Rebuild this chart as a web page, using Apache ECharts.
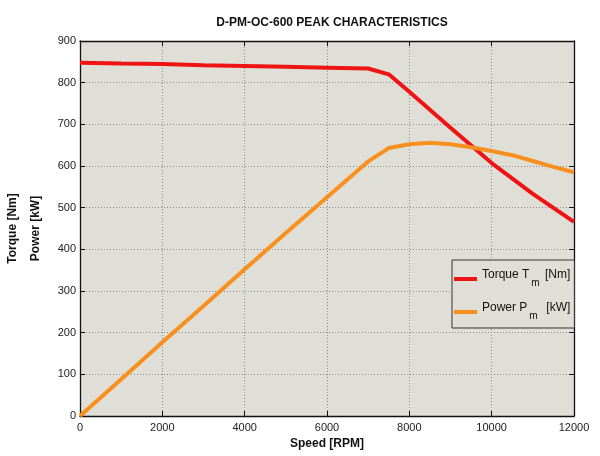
<!DOCTYPE html>
<html>
<head>
<meta charset="utf-8">
<script src="https://cdn.jsdelivr.net/npm/echarts@6/dist/echarts.min.js"></script>
<style>
html,body{margin:0;padding:0;background:#fff;}
#chart{width:600px;height:456px;}
</style>
</head>
<body>
<div id="chart"></div>
<script>
// speed [RPM]
const torqueSpeed = [0, 1000, 2000, 3000, 4000, 5000, 6000, 7000, 7500, 8000, 9000, 10000, 11000, 12000];
const torqueVals = [848, 846, 845, 842, 840, 838, 836, 834, 820, 778, 692, 607, 533, 466];
const powerSpeed = [0, 1000, 2000, 3000, 4000, 5000, 6000, 7000, 7500, 8000, 8500, 9000, 9500, 10000, 10500, 11000, 11500, 12000];
const powerVals = [0, 88, 177, 264, 352, 439, 525, 611, 643, 652, 656, 652, 645, 636, 626, 612, 598, 585];
const xTicks = [0, 2000, 4000, 6000, 8000, 10000, 12000];
const yTicks = [0, 100, 200, 300, 400, 500, 600, 700, 800, 900];

const chart = echarts.init(document.getElementById('chart'));

const font = 'Liberation Sans, Arial, sans-serif';
const plotBg = '#dfdfd7';

function pairs(xs, ys){
    return xs.map((x, i) => [x, ys[i]]);
}

const baseAxis = {
    type: 'value',
    axisLine: {show: true, onZero: false, lineStyle: {color: '#111', width: 1.3}},
    axisTick: {show: true, inside: true, length: 5, lineStyle: {color: '#111'}},
    splitLine: {show: false}
};

const option = {
    backgroundColor: '#fff',
    animation: false,
    title: {
        text: 'D-PM-OC-600 PEAK CHARACTERISTICS',
        left: 327,
        textAlign: 'center',
        top: 12,
        textStyle: {fontFamily: font, fontSize: 12, fontWeight: 'bold', color: '#111'}
    },
    grid: {left: 80, right: 26, top: 41, bottom: 40, show: true, backgroundColor: plotBg,
        borderWidth: 0, outerBoundsMode: 'none', containLabel: false},
    legend: {
        orient: 'vertical',
        left: 452,
        top: 260,
        padding: [9, 4, 7, 2],
        itemGap: 14,
        itemWidth: 23,
        itemHeight: 4,
        icon: 'rect',
        backgroundColor: plotBg,
        borderColor: '#333',
        borderWidth: 1,
        borderRadius: 0,
        data: ['Torque', 'Power'],
        formatter: function(name){
            if (name === 'Torque') return '{t|Torque T}{s|m}{t| [Nm]}';
            return '{t|Power P}{s|m}{t|  [kW]}';
        },
        textStyle: {
            fontFamily: font,
            fontSize: 12,
            color: '#111',
            rich: {
                t: {fontFamily: font, fontSize: 12, color: '#111', padding: [0, 0, 8, 0]},
                s: {fontFamily: font, fontSize: 10, color: '#111', padding: [8, 2, 0, 2]}
            }
        }
    },
    xAxis: [
        Object.assign({}, baseAxis, {
            position: 'bottom',
            min: 0, max: 12000, interval: 2000,
            name: 'Speed [RPM]',
            nameLocation: 'middle',
            nameGap: 21,
            nameTextStyle: {fontFamily: font, fontSize: 12, fontWeight: 'bold', color: '#111'},
            axisLabel: {fontFamily: font, fontSize: 11, color: '#222', margin: 6,
                formatter: v => xTicks.includes(v) ? String(v) : ''},
            splitLine: {show: true, lineStyle: {color: '#8a8a8a', type: [1, 2], width: 1}}
        }),
        Object.assign({}, baseAxis, {
            position: 'top',
            min: 0, max: 12000, interval: 2000,
            axisLabel: {show: false}
        })
    ],
    yAxis: [
        Object.assign({}, baseAxis, {
            position: 'left',
            min: 0, max: 900, interval: 100,
            name: 'Torque [Nm]\nPower [kW]',
            nameLocation: 'middle',
            nameRotate: 90,
            nameGap: 27,
            nameTextStyle: {fontFamily: font, fontSize: 12, fontWeight: 'bold', color: '#111', lineHeight: 23},
            axisLabel: {fontFamily: font, fontSize: 11, color: '#222', margin: 4,
                formatter: v => yTicks.includes(v) ? String(v) : ''},
            splitLine: {show: true, lineStyle: {color: '#8a8a8a', type: [1, 2], width: 1}}
        }),
        Object.assign({}, baseAxis, {
            position: 'right',
            min: 0, max: 900, interval: 100,
            axisLabel: {show: false}
        })
    ],
    series: [
        {
            name: 'Torque',
            type: 'line',
            data: pairs(torqueSpeed, torqueVals),
            showSymbol: false,
            symbol: 'none',
            color: '#ee1414',
            lineStyle: {color: '#ee1414', width: 4},
            z: 3
        },
        {
            name: 'Power',
            type: 'line',
            data: pairs(powerSpeed, powerVals),
            showSymbol: false,
            symbol: 'none',
            color: '#f7901e',
            lineStyle: {color: '#f7901e', width: 4},
            z: 4
        }
    ]
};

chart.setOption(option);
</script>
</body>
</html>
